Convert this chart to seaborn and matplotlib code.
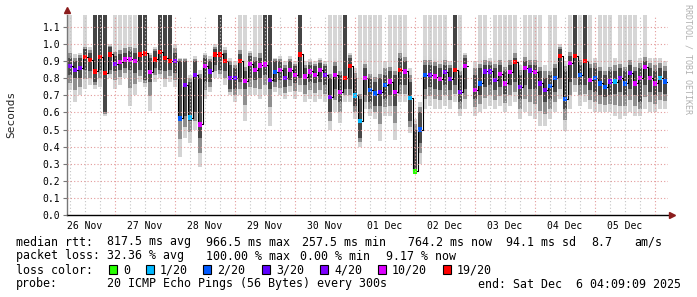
import numpy as np
import pandas as pd
import matplotlib
matplotlib.use("Agg")
import matplotlib.pyplot as plt
import matplotlib.dates as mdates
from matplotlib.ticker import FuncFormatter, NullFormatter, FormatStrFormatter
from matplotlib.patches import Rectangle
import seaborn as sns

nan = np.nan

# ---------------- data (2-hour bins starting 2025-11-26 05:00) ----------------
start_time = "2025-11-26 05:00"
median = [
    0.87, 0.85, 0.86, 0.925, 0.905, 0.84, 0.925, 0.83, 0.94, 0.885,
    0.895, 0.91, 0.91, 0.90, 0.94, 0.945, 0.835, 0.91, 0.955, 0.92,
    0.90, 0.90, 0.565, 0.76, 0.57, 0.82, 0.53, 0.87, 0.84, 0.94,
    0.94, 0.90, 0.80, 0.80, 0.90, 0.785, 0.885, 0.85, 0.875, 0.88,
    0.79, 0.835, 0.85, 0.80, 0.85, 0.82, 0.94, 0.81, 0.84, 0.82,
    0.85, 0.82, 0.69, 0.82, 0.72, 0.80, 0.87, 0.70, 0.55, 0.80,
    0.73, 0.71, 0.72, 0.76, 0.78, 0.72, 0.85, 0.84, 0.685, 0.255,
    0.50, 0.82, 0.82, 0.81, 0.795, 0.835, 0.795, 0.85, 0.72, 0.87,
    nan, 0.73, 0.77, 0.84, 0.84, 0.79, 0.825, 0.77, 0.835, 0.895,
    0.75, 0.86, 0.845, 0.835, 0.77, 0.73, 0.755, 0.80, 0.93, 0.68,
    0.89, 0.93, 0.82, 0.90, 0.79, 0.80, 0.77, 0.75, 0.78, 0.78,
    0.80, 0.77, 0.83, 0.77, 0.80, 0.865, 0.80, 0.77, 0.80, 0.78,
]
loss_labels = ["0", "1/20", "2/20", "3/20", "4/20", "10/20", "19/20"]
loss_colors = ["#26ff00", "#00b8ff", "#0059ff", "#5e00ff", "#7e00ff", "#dd00ff", "#ff0000"]
loss_idx = [
    4, 4, 4, 6, 6, 6, 6, 6, 6, 4,
    5, 5, 5, 5, 6, 6, 5, 6, 6, 6,
    6, 4, 2, 4, 1, 4, 5, 5, 4, 6,
    6, 6, 4, 3, 6, 5, 5, 5, 5, 5,
    4, 2, 5, 4, 5, 5, 6, 5, 5, 5,
    5, 4, 4, 5, 5, 6, 6, 1, 1, 5,
    2, 2, 3, 2, 5, 5, 6, 5, 1, 0,
    2, 2, 4, 5, 5, 4, 4, 6, 4, 5,
    4, 5, 2, 4, 4, 4, 5, 5, 5, 6,
    4, 5, 4, 5, 4, 4, 2, 2, 6, 2,
    5, 6, 2, 6, 5, 2, 2, 2, 4, 1,
    4, 2, 4, 5, 5, 5, 5, 5, 1, 2,
]
core_lo = [
    0.82, 0.80, 0.80, 0.85, 0.84, 0.78, 0.85, 0.60, 0.85, 0.84,
    0.85, 0.86, 0.85, 0.83, 0.85, 0.79, 0.78, 0.86, 0.85, 0.84,
    0.85, 0.83, 0.55, 0.58, 0.55, 0.60, 0.45, 0.78, 0.78, 0.88,
    0.85, 0.84, 0.74, 0.74, 0.78, 0.74, 0.80, 0.79, 0.80, 0.82,
    0.74, 0.78, 0.79, 0.75, 0.79, 0.77, 0.80, 0.76, 0.78, 0.77,
    0.78, 0.76, 0.60, 0.74, 0.66, 0.74, 0.74, 0.64, 0.45, 0.70,
    0.66, 0.64, 0.64, 0.68, 0.70, 0.64, 0.76, 0.76, 0.55, 0.25,
    0.42, 0.74, 0.75, 0.74, 0.73, 0.76, 0.73, 0.76, 0.66, 0.74,
    nan, 0.68, 0.70, 0.75, 0.76, 0.73, 0.75, 0.71, 0.76, 0.78,
    0.68, 0.76, 0.74, 0.74, 0.70, 0.66, 0.68, 0.72, 0.80, 0.62,
    0.78, 0.80, 0.76, 0.76, 0.73, 0.72, 0.70, 0.69, 0.70, 0.71,
    0.72, 0.70, 0.74, 0.70, 0.66, 0.76, 0.72, 0.70, 0.72, 0.71,
]
core_hi = [
    0.92, 0.90, 0.92, 0.97, 0.95, 1.2, 1.2, 1.2, 0.98, 0.93,
    0.94, 0.95, 0.96, 0.95, 1.2, 1.2, 0.92, 0.96, 1.2, 1.2,
    1.2, 0.95, 0.90, 0.90, 0.78, 0.90, 0.80, 0.92, 0.90, 0.97,
    1.2, 0.95, 0.88, 0.86, 0.94, 0.84, 0.93, 0.90, 0.92, 1.2,
    1.2, 0.90, 0.90, 0.86, 0.90, 0.87, 1.2, 0.86, 0.88, 0.87,
    0.89, 0.87, 0.80, 0.87, 0.82, 1.2, 0.92, 0.80, 0.68, 0.86,
    0.80, 0.78, 0.80, 0.82, 0.84, 0.82, 0.92, 0.90, 0.78, 0.50,
    0.60, 0.88, 0.88, 0.87, 0.86, 0.88, 0.86, 1.2, 0.82, 0.92,
    nan, 0.82, 0.86, 0.88, 0.88, 0.86, 0.88, 0.84, 0.88, 0.92,
    0.82, 0.90, 0.88, 0.88, 0.84, 0.80, 0.82, 0.86, 0.97, 0.84,
    0.93, 1.2, 0.88, 1.2, 0.86, 0.86, 0.84, 0.82, 0.84, 0.84,
    0.86, 0.84, 0.88, 0.84, 0.86, 0.90, 0.86, 0.84, 0.86, 0.84,
]
smoke_lo = [
    0.73, 0.66, 0.70, 0.74, 0.76, 0.74, 0.75, 0.58, 0.80, 0.74,
    0.76, 0.80, 0.64, 0.70, 0.78, 0.75, 0.61, 0.78, 0.80, 0.75,
    0.78, 0.75, 0.34, 0.45, 0.42, 0.50, 0.28, 0.68, 0.72, 0.80,
    0.80, 0.76, 0.70, 0.66, 0.70, 0.55, 0.70, 0.70, 0.68, 0.70,
    0.52, 0.72, 0.70, 0.68, 0.72, 0.68, 0.72, 0.66, 0.68, 0.66,
    0.68, 0.66, 0.50, 0.60, 0.54, 0.66, 0.66, 0.56, 0.40, 0.62,
    0.58, 0.56, 0.43, 0.58, 0.58, 0.44, 0.66, 0.66, 0.48, 0.24,
    0.30, 0.62, 0.64, 0.62, 0.62, 0.64, 0.62, 0.66, 0.58, 0.62,
    nan, 0.58, 0.60, 0.62, 0.64, 0.62, 0.64, 0.60, 0.64, 0.66,
    0.56, 0.60, 0.58, 0.56, 0.52, 0.52, 0.56, 0.60, 0.68, 0.49,
    0.62, 0.72, 0.64, 0.66, 0.62, 0.60, 0.60, 0.60, 0.60, 0.58,
    0.56, 0.58, 0.60, 0.58, 0.58, 0.62, 0.60, 0.60, 0.62, 0.62,
]
smoke_hi = [
    1.2, 0.94, 0.95, 1.2, 0.98, 1.2, 1.2, 1.2, 1.0, 1.2,
    1.2, 1.2, 1.2, 1.2, 1.2, 1.2, 0.95, 0.98, 1.2, 1.2,
    1.2, 1.0, 0.92, 0.92, 0.82, 0.93, 0.85, 0.95, 0.93, 1.0,
    1.2, 0.98, 0.92, 0.90, 1.2, 1.2, 0.96, 1.2, 1.2, 1.2,
    1.2, 0.92, 0.93, 0.90, 0.93, 0.90, 1.2, 0.90, 0.91, 0.90,
    0.92, 0.90, 1.2, 1.2, 1.2, 1.2, 0.95, 0.86, 1.2, 1.2,
    1.2, 1.2, 1.2, 0.90, 1.2, 1.2, 1.2, 1.2, 0.86, 0.56,
    0.66, 1.2, 1.2, 1.2, 1.2, 1.2, 0.90, 1.2, 1.2, 0.95,
    nan, 0.90, 1.2, 1.2, 0.92, 1.2, 1.2, 1.2, 1.2, 1.2,
    0.88, 1.2, 1.2, 1.2, 1.2, 0.88, 1.2, 1.2, 1.0, 0.90,
    1.2, 1.2, 1.2, 1.2, 1.2, 0.92, 1.2, 1.2, 1.2, 0.92,
    1.2, 1.2, 1.2, 1.2, 0.92, 1.2, 0.92, 0.92, 0.92, 0.90,
]
y_ticks = [0.0, 0.1, 0.2, 0.3, 0.4, 0.5, 0.6, 0.7, 0.8, 0.9, 1.0, 1.1]

legend_rows = [
    [(16, "median rtt:"), (107, "817.5 ms avg"), (206, "966.5 ms max"), (302, "257.5 ms min"),
     (408, "764.2 ms now"), (506, "94.1 ms sd"), (591, "8.7"), (634, "am/s")],
    [(16, "packet loss:"), (107, "32.36 % avg"), (206, "100.00 % max"), (300, "0.00 % min"),
     (386, "9.17 % now")],
    [(16, "loss color:")],
    [(16, "probe:"), (107, "20 ICMP Echo Pings (56 Bytes) every 300s"),
     (478, "end: Sat Dec  6 04:09:09 2025")],
]
swatch_x = [109, 146, 203, 262, 320, 378, 443]

# ---------------- styling ----------------
sns.set_theme(style="white")
plt.rcParams["font.family"] = ["DejaVu Sans Mono"]

W, H = 697, 297
fig = plt.figure(figsize=(W / 100, H / 100), dpi=100)
fig.patch.set_facecolor("white")
ax = fig.add_axes([67 / W, 1 - 215 / H, 601 / W, 200 / H])
ax.set_facecolor("white")

times = pd.date_range(start_time, periods=len(median), freq="2h")
step = pd.Timedelta(hours=2)
med = np.array(median, float)
clo = np.array(core_lo, float)
chi = np.array(core_hi, float)
slo = np.array(smoke_lo, float)
shi = np.array(smoke_hi, float)

bw = 2 / 24
narrow = bw * 0.8
t_narrow = times + pd.Timedelta(hours=2 * 0.1)

# smoke: body (full width) and spikes to the top (slightly narrower columns)
light_spike = shi >= 1.15
dark_spike = chi >= 1.15
body_top = np.where(light_spike, np.minimum(np.fmax(chi, med) + 0.05, 1.0), shi)
core_top = np.where(dark_spike, med + 0.05, chi)

ax.bar(times, body_top - slo, bottom=slo, width=bw, align="edge", color="#d4d4d4", lw=0, zorder=1.0)
ax.bar(t_narrow, np.where(light_spike, shi - body_top, nan), bottom=body_top, width=narrow,
       align="edge", color="#d6d6d6", lw=0, zorder=1.0)
mlo = slo + (clo - slo) * 0.5
mhi = core_top + (np.fmax(body_top, core_top) - core_top) * 0.5
ax.bar(times, mhi - mlo, bottom=mlo, width=bw, align="edge", color="#8f8f8f", lw=0, zorder=1.1)
ax.bar(times, core_top - clo, bottom=clo, width=bw, align="edge", color="#484848", lw=0, zorder=1.2)
ax.bar(t_narrow, np.where(dark_spike, chi - core_top, nan), bottom=core_top, width=narrow,
       align="edge", color="#444444", lw=0, zorder=1.2)

# median line
t_line = list(times) + [times[-1] + step]
ax.plot(t_line, list(med) + [med[-1]], drawstyle="steps-post", color="black", lw=0.8, zorder=1.5)

# loss-coloured median markers
df = pd.DataFrame({
    "t": times + pd.Timedelta(hours=1),
    "median": med,
    "loss": [loss_labels[i] for i in loss_idx],
})
sns.scatterplot(data=df, x="t", y="median", hue="loss", hue_order=loss_labels,
                palette=dict(zip(loss_labels, loss_colors)), marker="s", s=10,
                linewidth=0, legend=False, ax=ax, zorder=2.0)

# axes ranges
ax.set_xlim(pd.Timestamp("2025-11-26 04:48"), pd.Timestamp("2025-12-06 05:12"))
ax.set_ylim(0, 1.17)
ax.set_xlabel("")
ax.set_ylabel("")

# grid & ticks
ax.set_axisbelow(False)
ax.set_yticks(y_ticks)
ax.yaxis.set_major_formatter(FormatStrFormatter("%.1f"))
ax.xaxis.set_major_locator(mdates.DayLocator())
ax.xaxis.set_major_formatter(NullFormatter())
ax.xaxis.set_minor_locator(mdates.HourLocator(byhour=[6, 12, 18]))


def day_label(v, pos):
    d = mdates.num2date(v)
    return d.strftime("%d %b") if d.hour == 12 else ""


ax.xaxis.set_minor_formatter(FuncFormatter(day_label))
dots = (0, (1, 2))
ax.grid(which="major", axis="y", color="#e39a9a", linestyle=dots, lw=0.8)
ax.grid(which="major", axis="x", color="#e39a9a", linestyle=dots, lw=0.8)
ax.grid(which="minor", axis="x", color="#c4c4c4", linestyle=dots, lw=0.8)
ax.tick_params(axis="x", which="both", length=0, labelsize=7, pad=4, colors="black")
ax.tick_params(axis="y", which="major", length=3, width=0.8, labelsize=7, pad=2,
               color="#777777", labelcolor="black", left=True)

for s in ["top", "right"]:
    ax.spines[s].set_visible(False)
ax.spines["left"].set_color("#777777")
ax.spines["left"].set_linewidth(1)
ax.spines["bottom"].set_color("black")
ax.spines["bottom"].set_linewidth(1)

# axis arrows (decoration)
ax.plot([0], [1.025], marker="^", ms=4.5, color="#8b1c1c", transform=ax.transAxes,
        clip_on=False, zorder=5)
ax.plot([1.006], [0], marker=">", ms=4.5, color="#8b1c1c", transform=ax.transAxes,
        clip_on=False, zorder=5)

# y label and watermark
fig.text(11 / W, 1 - 114 / H, "Seconds", rotation=90, ha="center", va="center", fontsize=8)
fig.text(688 / W, 1 - 4 / H, "RRDTOOL / TOBI OETIKER", rotation=270, ha="center", va="top",
         fontsize=6, color="#b0b0b0")

# legend text rows
baselines = [245.5, 259.5, 273.5, 287.5]
for row, yb in zip(legend_rows, baselines):
    for x, s in row:
        fig.text(x / W, 1 - yb / H, s, ha="left", va="baseline", fontsize=8.4, color="black")

for x, col, lab in zip(swatch_x, loss_colors, loss_labels):
    fig.add_artist(Rectangle((x / W, 1 - 273.5 / H), 7.5 / W, 8.5 / H, transform=fig.transFigure,
                             facecolor=col, edgecolor="black", lw=0.8))
    fig.text((x + 14) / W, 1 - 273.5 / H, lab, ha="left", va="baseline", fontsize=8.4, color="black")

fig.savefig("out.png", dpi=100, facecolor="white")
